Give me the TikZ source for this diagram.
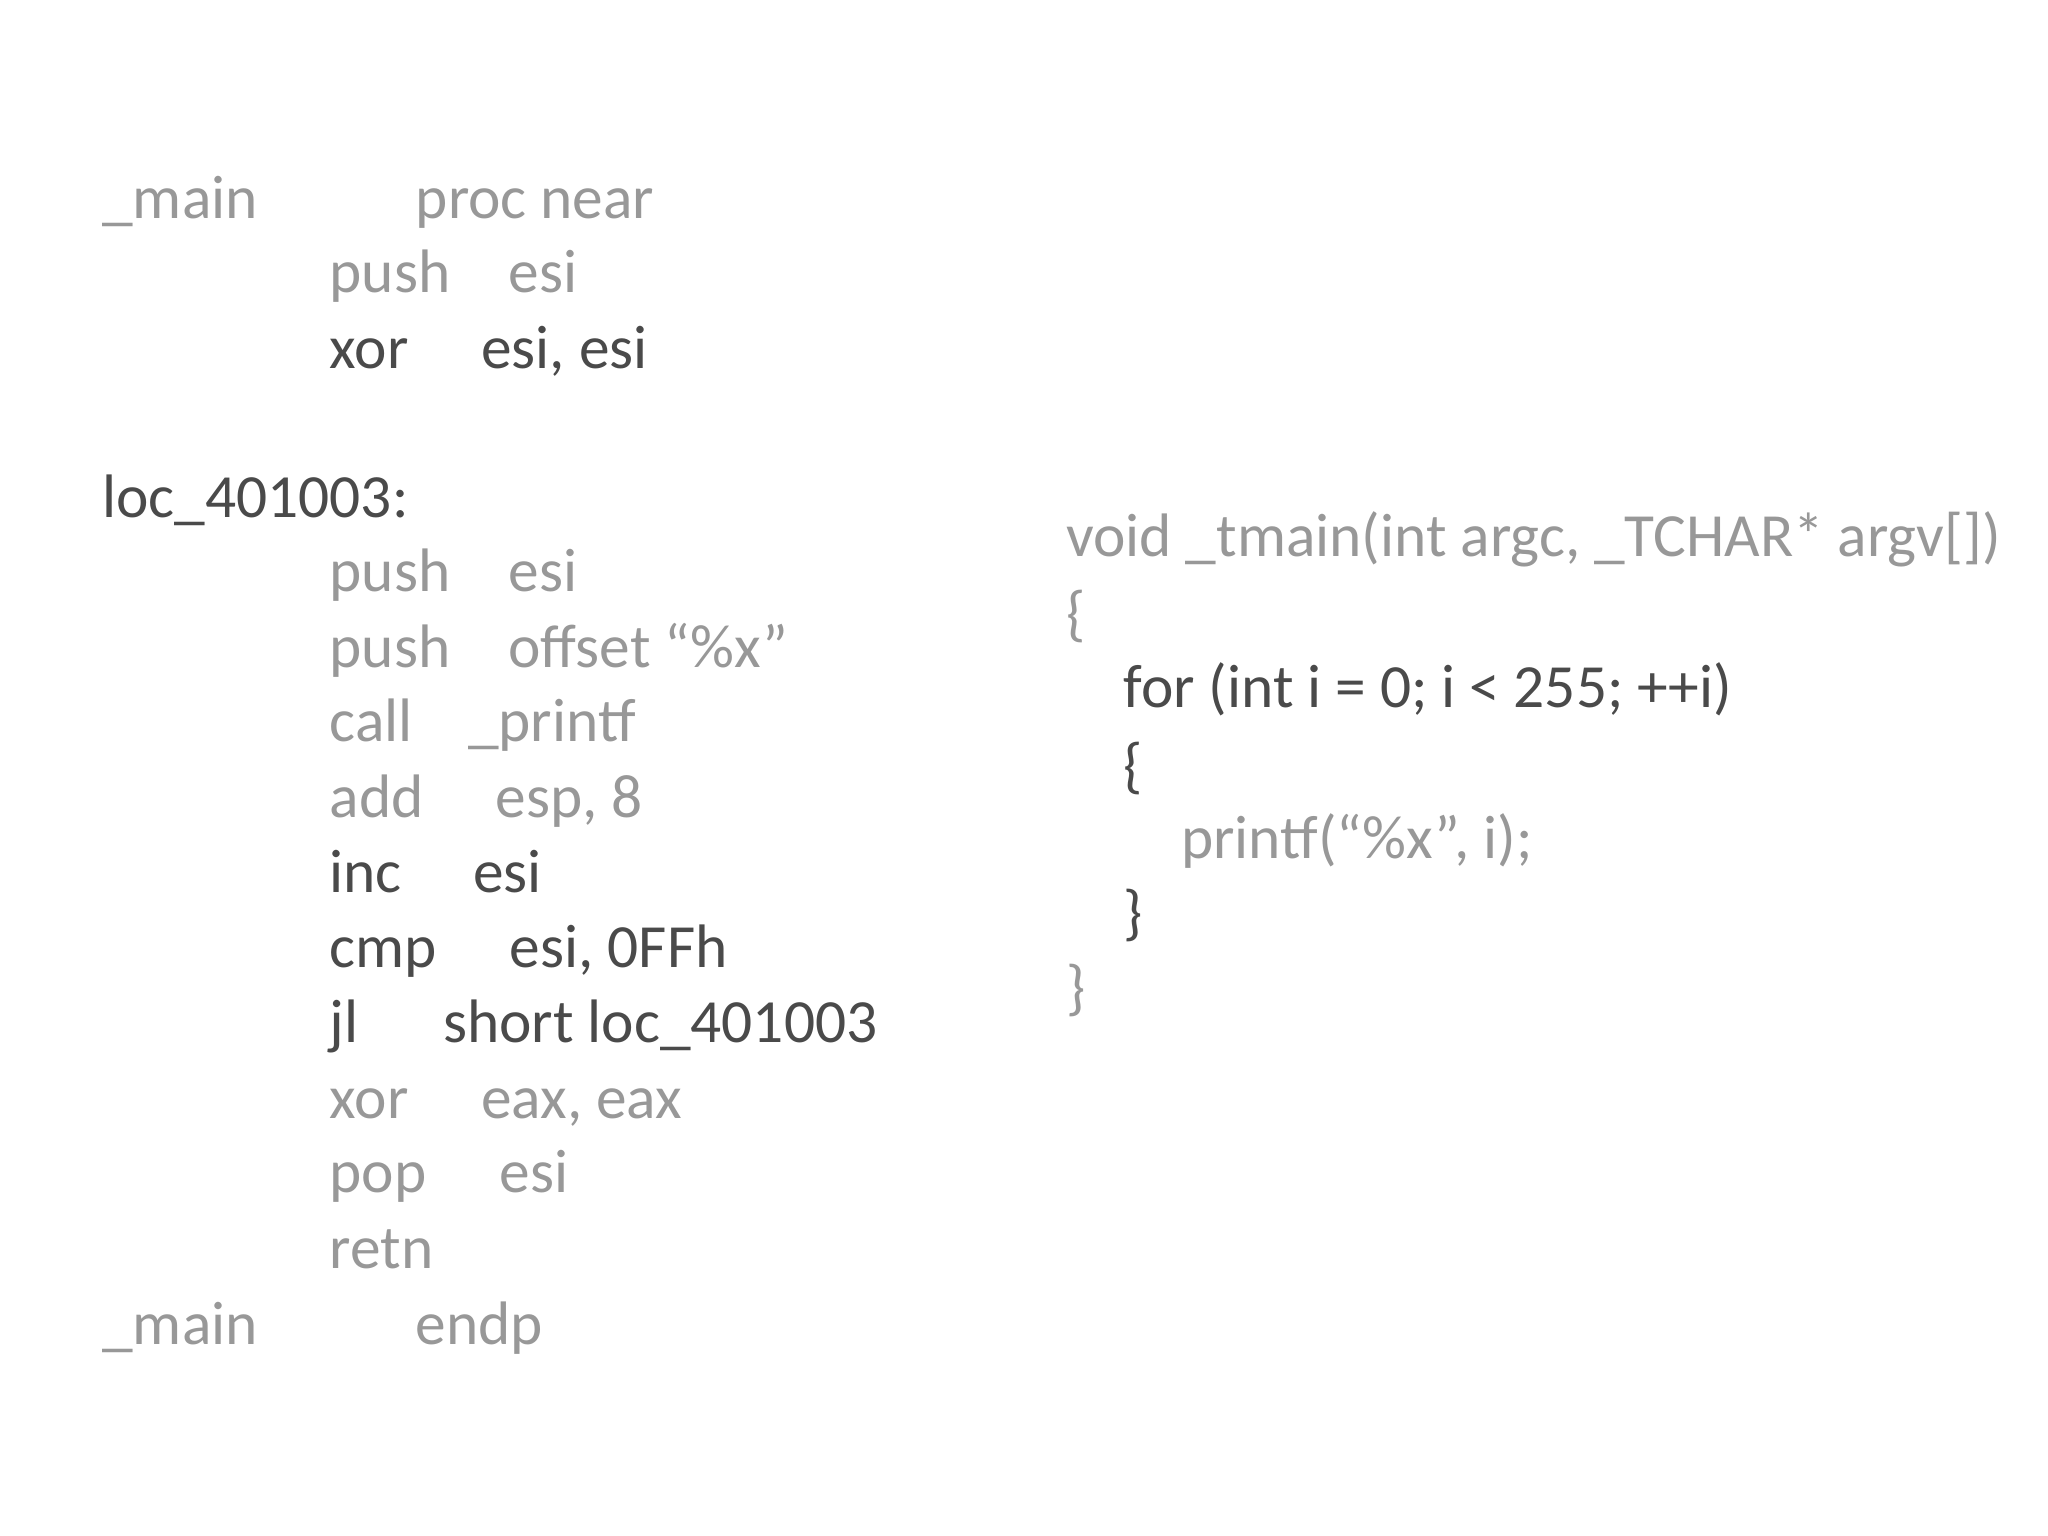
\documentclass[tikz,border=0pt]{standalone}
\usepackage{fontspec}
\setmainfont{Carlito}
\definecolor{lt}{HTML}{989898}
\definecolor{dk}{HTML}{4A4A4A}
\begin{document}
\begin{tikzpicture}[x=0.5bp,y=-0.5bp,
  t/.style={anchor=base west,inner sep=0pt,font=\fontsize{23.5bp}{28bp}\selectfont},
  l/.style={t,text=lt}, d/.style={t,text=dk}]
\useasboundingbox (0,0) rectangle (1568,1176);
\def\b#1{\numexpr#1+12\relax}
\node[l] (a1) at (78,167) {\_main};
\node[l] (a2) at (318,167) {proc near};
\node[l] (b1) at (252,224) {push};
\node[l] (b2) at (389,224) {esi};
\node[d] (c1) at (252,282) {xor};
\node[d] (c2) at (368,282) {esi, esi};
\node[d] (d1) at (78,396) {loc\_401003:};
\node[l] (e1) at (252,453) {push};
\node[l] (e2) at (389,453) {esi};
\node[l] (f1) at (252,511) {push};
\node[l] (f2) at (389,511) {offset “\%x"};
\node[l] (g1) at (252,568) {call};
\node[l] (g2) at (358,568) {\_printf};
\node[l] (h1) at (252,626) {add};
\node[l] (h2) at (379,626) {esp, 8};
\node[d] (i1) at (252,683) {inc};
\node[d] (i2) at (362,683) {esi};
\node[d] (j1) at (252,741) {cmp};
\node[d] (j2) at (390,741) {esi, 0FFh};
\node[d] (k1) at (252,798) {jl};
\node[d] (k2) at (339,798) {short loc\_401003};
\node[l] (m1) at (252,856) {xor};
\node[l] (m2) at (368,856) {eax, eax};
\node[l] (n1) at (252,913) {pop};
\node[l] (n2) at (382,913) {esi};
\node[l] (o1) at (252,971) {retn};
\node[l] (p1) at (78,1029) {\_main};
\node[l] (p2) at (318,1029) {endp};
\node[l] (r1) at (816,426) {void \_tmain(int argc, \_TCHAR* argv[])};
\node[l] (r2) at (816,486) {\{};
\node[d] (r3) at (860,542) {for (int i = 0; i < 255; ++i)};
\node[d] (r4) at (860,602) {\{};
\node[l] (r5) at (904,657) {printf(“\%x", i);};
\node[d] (r6) at (860,715) {\}};
\node[l] (r7) at (816,772) {\}};
\end{tikzpicture}
\end{document}
